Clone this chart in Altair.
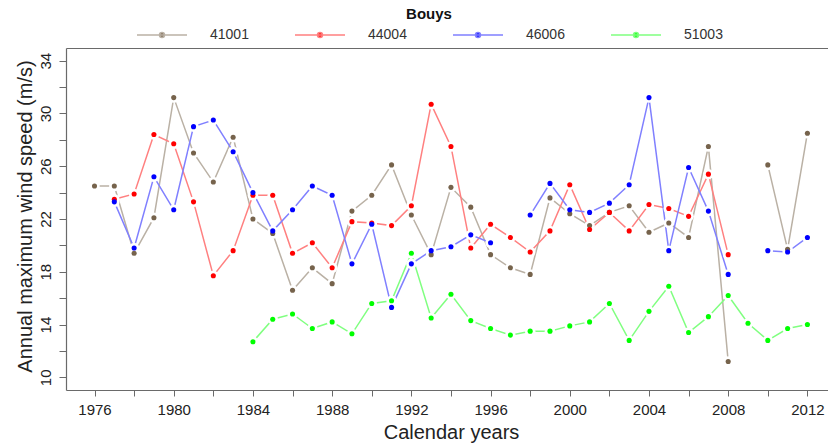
import altair as alt
import pandas as pd

# Calendar years covered by the buoy records
years = list(range(1976, 2013))

# Buoy identifiers and their colours
buoys = ["41001", "44004", "46006", "51003"]
dot_colors = ["#76634C", "#FF0000", "#0000FF", "#00FF00"]
line_colors = ["#BAB1A5", "#FF8080", "#8080FF", "#80FF80"]

# Annual maximum wind speed (m/s); None = no record that year
b41001 = [24.5, 24.5, 19.4, 22.1, 31.2, 27.0, 24.8, 28.2, 22.0, 20.9,
          16.6, 18.3, 17.1, 22.6, 23.8, 26.1, 22.3, 19.3, 24.4, 22.9,
          19.3, 18.3, 17.8, 23.6, 22.4, 21.5, 22.5, 23.0, 21.0, 21.7,
          20.6, 27.5, 11.2, None, 26.1, 19.7, 28.5]
b44004 = [None, 23.5, 23.9, 28.4, 27.7, 23.3, 17.7, 19.6, 23.8, 23.8,
          19.4, 20.2, 18.3, 21.8, 21.7, 21.5, 23.0, 30.7, 27.5, 19.8,
          21.6, 20.6, 19.5, 21.1, 24.6, 21.2, 22.5, 21.1, 23.1, 22.8,
          22.2, 25.4, 19.3, None, None, None, None]
b46006 = [None, 23.3, 19.8, 25.2, 22.7, 29.0, 29.5, 27.1, 24.0, 21.1,
          22.7, 24.5, 23.8, 18.6, 21.6, 15.3, 18.6, 19.6, 19.9, 20.8,
          20.2, None, 22.3, 24.7, 22.7, 22.5, 23.2, 24.6, 31.2, 19.6,
          25.9, 22.6, 17.8, None, 19.6, 19.5, 20.6]
b51003 = [None, None, None, None, None, None, None, None, 12.7, 14.4,
          14.8, 13.7, 14.2, 13.3, 15.6, 15.8, 19.4, 14.5, 16.3, 14.3,
          13.7, 13.2, 13.5, 13.5, 13.9, 14.2, 15.6, 12.8, 15.0, 16.9,
          13.4, 14.6, 16.2, 14.1, 12.8, 13.7, 14.0]

series = dict(zip(buoys, [b41001, b44004, b46006, b51003]))

# Long table; a new run starts after every missing year so lines break there
rows = []
for name, vals in series.items():
    run, prev_missing = 0, True
    for yr, v in zip(years, vals):
        if v is None:
            prev_missing = True
            continue
        if prev_missing:
            run += 1
            prev_missing = False
        rows.append({"year": yr, "speed": v, "buoy": name, "run": f"{name}-{run}"})
df = pd.DataFrame(rows)

GRAY = "#6a6a6a"
TXT = "#222222"

x_scale = alt.Scale(domain=[1974.56, 2013.04], nice=False, zero=False)
y_scale = alt.Scale(domain=[9.04, 34.96], nice=False, zero=False)

x_axis = alt.Axis(
    values=list(range(1976, 2013, 2)), format="d",
    labelExpr="datum.value % 4 == 0 ? datum.label : ''",
    tickSize=6, labelPadding=13, labelBaseline="middle", labelFontSize=15,
    labelOverlap=False, labelFlush=False, grid=False,
    title="Calendar years", titleFontSize=20, titleFontWeight="normal",
    titleX=385, titleY=42, titleBaseline="middle", titleAlign="center",
)
y_axis = alt.Axis(
    values=list(range(10, 35, 2)),
    labelExpr="datum.value % 4 == 2 ? datum.label : ''",
    labelAngle=270, labelAlign="center", labelBaseline="middle",
    labelPadding=14, tickSize=7, labelFontSize=15,
    labelOverlap=False, labelFlush=False, grid=False,
    title="Annual maximum wind speed (m/s)", titleFontSize=20,
    titleFontWeight="normal", titleAngle=270, titleBaseline="middle",
    titleAlign="center", titleX=-41, titleY=168,
)
top_axis = alt.Axis(orient="top", labels=False, ticks=False, title="",
                    domain=True, grid=False)

legend = alt.Legend(
    title="Bouys", orient="none", direction="horizontal",
    legendX=70, legendY=-41,
    titleFontSize=15, titleFontWeight="bold", titleColor="#111111",
    titleAnchor="middle", titlePadding=-13,
    labelFontSize=14, labelColor="#333333", labelOffset=22,
    columnPadding=43,
    symbolType="M-1,0L1,0M0.1,0A0.1,0.1,0,1,1,-0.1,0A0.1,0.1,0,1,1,0.1,0Z",
    symbolSize=2500, symbolStrokeWidth=1.5, symbolOpacity=1,
)

base = alt.Chart(df)

lines = base.mark_line(strokeWidth=1.5).encode(
    x=alt.X("year:Q", scale=x_scale, axis=x_axis),
    y=alt.Y("speed:Q", scale=y_scale, axis=y_axis),
    stroke=alt.Stroke("buoy:N", scale=alt.Scale(domain=buoys, range=line_colors),
                      legend=legend),
    detail="run:N",
)

# white halo around each point leaves a small gap in the line
halo = base.mark_circle(size=110, color="white", opacity=1).encode(
    x=alt.X("year:Q", scale=x_scale, axis=top_axis),
    y=alt.Y("speed:Q", scale=y_scale, axis=y_axis),
)

points = base.mark_circle(size=26, opacity=1).encode(
    x=alt.X("year:Q", scale=x_scale, axis=None),
    y=alt.Y("speed:Q", scale=y_scale, axis=y_axis),
    fill=alt.Fill("buoy:N", scale=alt.Scale(domain=buoys, range=dot_colors),
                  legend=legend),
)

chart = (
    alt.layer(lines, halo, points)
    .resolve_axis(x="independent")
    .properties(
        width=762, height=342,
        padding={"left": 66, "top": 48, "right": 0, "bottom": 55},
        autosize=alt.AutoSizeParams(type="none"),
    )
    .configure(font="Liberation Sans")
    .configure_view(stroke=None)
    .configure_axis(domainColor=GRAY, tickColor=GRAY, labelColor=TXT,
                    titleColor=TXT, domainWidth=1.2, tickWidth=1)
)

chart.save("out.html", embed_options={"renderer": "svg", "actions": False})
